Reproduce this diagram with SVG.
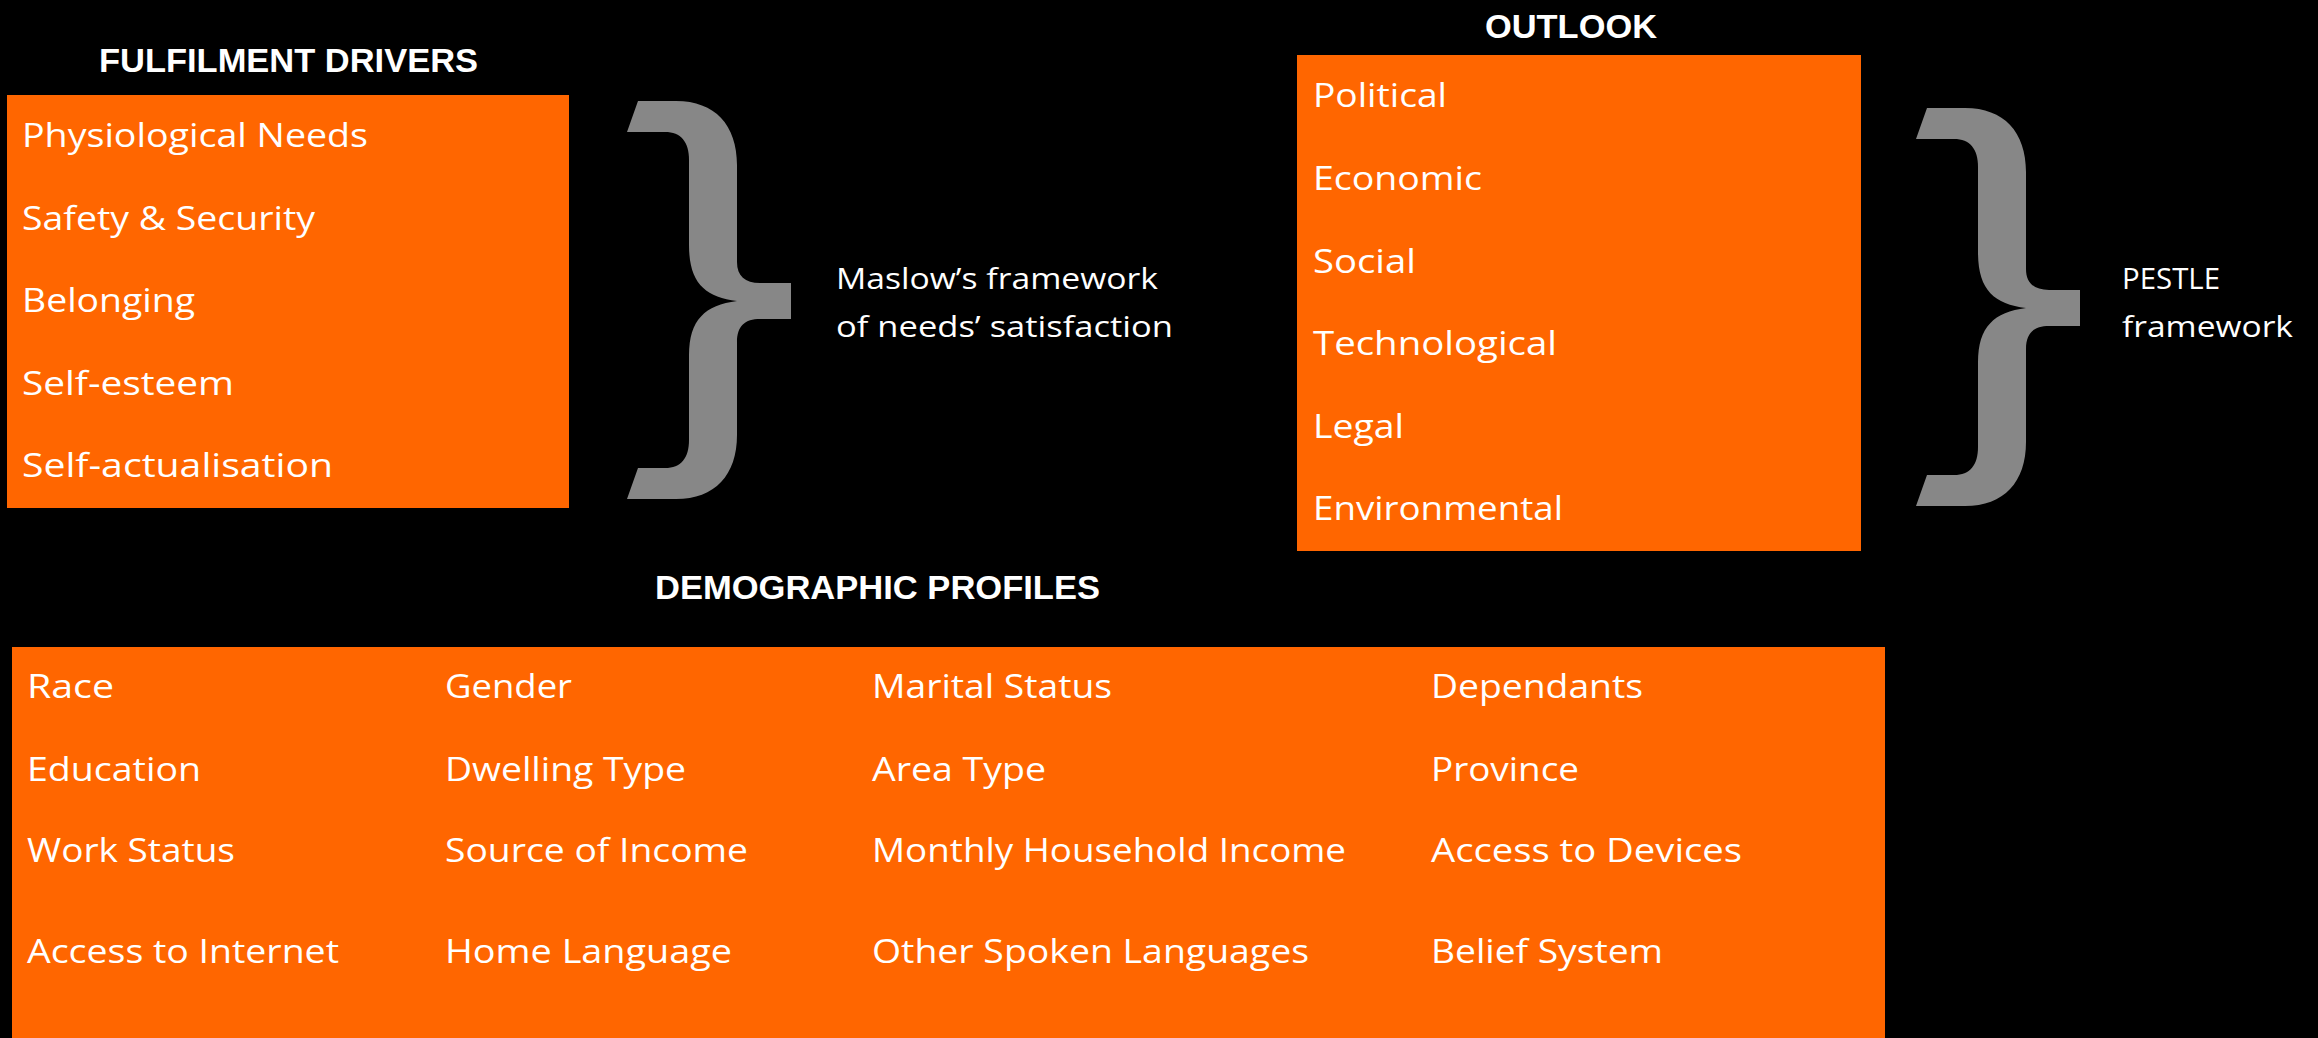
<svg xmlns="http://www.w3.org/2000/svg" xmlns:xlink="http://www.w3.org/1999/xlink" width="2318" height="1038" viewBox="0 0 2318 1038">
  <style>
    .panel { fill: #FF6600; }
    .head { font-family: "Liberation Sans", Arial, sans-serif; font-weight: 700; font-size: 34px; fill: #FFFFFF; }
    .item { font-family: "Open Sans", "Noto Sans", sans-serif; font-weight: 500; font-size: 33px; fill: #FFFFFF; }
    .note { font-family: "Open Sans", "Noto Sans", sans-serif; font-weight: 400; font-size: 30px; fill: #FFFFFF; }
    .brace { fill: #878787; }
  </style>
  <defs>
    <!-- closing curly brace, drawn at origin, size 164x398 -->
    <path id="brace" d="M 11,0 L 49,0 C 88,0 110,24 110,64 L 110,161 C 110,175 118,182 133,182 L 164,182 L 164,218 L 133,218 C 118,218 110,225 110,241 L 110,334 C 110,374 88,398 49,398 L 0,398 L 11,367 L 38,367 C 54,367 62,357 62,339 L 62,254 C 62,219 78,204 110,200 C 78,196 62,182 62,144 L 62,59 C 62,41 54,31 38,31 L 0,31 Z"/>
  </defs>

  <rect x="0" y="0" width="2318" height="1038" fill="#000000"/>

  <!-- Fulfilment drivers -->
  <g id="fulfilment-drivers">
    <text class="head" x="99" y="72" textLength="379" lengthAdjust="spacingAndGlyphs">FULFILMENT DRIVERS</text>
    <rect class="panel" x="7" y="95" width="562" height="413"/>
    <text class="item" x="22" y="147" textLength="346" lengthAdjust="spacingAndGlyphs">Physiological Needs</text>
    <text class="item" x="22" y="229.5" textLength="293" lengthAdjust="spacingAndGlyphs">Safety &amp; Security</text>
    <text class="item" x="22" y="312" textLength="173" lengthAdjust="spacingAndGlyphs">Belonging</text>
    <text class="item" x="22" y="394.5" textLength="212" lengthAdjust="spacingAndGlyphs">Self-esteem</text>
    <text class="item" x="22" y="477" textLength="311" lengthAdjust="spacingAndGlyphs">Self-actualisation</text>
  </g>

  <!-- Maslow label -->
  <g id="maslow-label">
    <text class="note" x="836" y="289" textLength="322" lengthAdjust="spacingAndGlyphs">Maslow’s framework</text>
    <text class="note" x="836" y="337" textLength="337" lengthAdjust="spacingAndGlyphs">of needs’ satisfaction</text>
  </g>

  <!-- Outlook -->
  <g id="outlook">
    <text class="head" x="1485" y="38" textLength="172" lengthAdjust="spacingAndGlyphs">OUTLOOK</text>
    <rect class="panel" x="1297" y="55" width="564" height="496"/>
    <text class="item" x="1313" y="107" textLength="134" lengthAdjust="spacingAndGlyphs">Political</text>
    <text class="item" x="1313" y="190" textLength="169" lengthAdjust="spacingAndGlyphs">Economic</text>
    <text class="item" x="1313" y="272.5" textLength="103" lengthAdjust="spacingAndGlyphs">Social</text>
    <text class="item" x="1313" y="355" textLength="244" lengthAdjust="spacingAndGlyphs">Technological</text>
    <text class="item" x="1313" y="437.5" textLength="91" lengthAdjust="spacingAndGlyphs">Legal</text>
    <text class="item" x="1313" y="520" textLength="250" lengthAdjust="spacingAndGlyphs">Environmental</text>
  </g>

  <!-- PESTLE label -->
  <g id="pestle-label">
    <text class="note" x="2122" y="289" textLength="98" lengthAdjust="spacingAndGlyphs">PESTLE</text>
    <text class="note" x="2122" y="337" textLength="171" lengthAdjust="spacingAndGlyphs">framework</text>
  </g>

  <!-- Demographic profiles -->
  <g id="demographic-profiles">
    <text class="head" x="655" y="599" textLength="445" lengthAdjust="spacingAndGlyphs">DEMOGRAPHIC PROFILES</text>
    <rect class="panel" x="12" y="647" width="1873" height="391"/>
    <text class="item" x="27" y="698" textLength="87" lengthAdjust="spacingAndGlyphs">Race</text>
    <text class="item" x="27" y="781" textLength="174" lengthAdjust="spacingAndGlyphs">Education</text>
    <text class="item" x="27" y="862" textLength="208" lengthAdjust="spacingAndGlyphs">Work Status</text>
    <text class="item" x="27" y="963" textLength="312" lengthAdjust="spacingAndGlyphs">Access to Internet</text>
    <text class="item" x="445" y="698" textLength="127" lengthAdjust="spacingAndGlyphs">Gender</text>
    <text class="item" x="445" y="781" textLength="241" lengthAdjust="spacingAndGlyphs">Dwelling Type</text>
    <text class="item" x="445" y="862" textLength="303" lengthAdjust="spacingAndGlyphs">Source of Income</text>
    <text class="item" x="445" y="963" textLength="287" lengthAdjust="spacingAndGlyphs">Home Language</text>
    <text class="item" x="872" y="698" textLength="240" lengthAdjust="spacingAndGlyphs">Marital Status</text>
    <text class="item" x="872" y="781" textLength="174" lengthAdjust="spacingAndGlyphs">Area Type</text>
    <text class="item" x="872" y="862" textLength="474" lengthAdjust="spacingAndGlyphs">Monthly Household Income</text>
    <text class="item" x="872" y="963" textLength="437" lengthAdjust="spacingAndGlyphs">Other Spoken Languages</text>
    <text class="item" x="1431" y="698" textLength="212" lengthAdjust="spacingAndGlyphs">Dependants</text>
    <text class="item" x="1431" y="781" textLength="148" lengthAdjust="spacingAndGlyphs">Province</text>
    <text class="item" x="1431" y="862" textLength="311" lengthAdjust="spacingAndGlyphs">Access to Devices</text>
    <text class="item" x="1431" y="963" textLength="232" lengthAdjust="spacingAndGlyphs">Belief System</text>
  </g>

  <!-- Braces grouping each list with its framework label -->
  <g id="connectors">
    <use xlink:href="#brace" href="#brace" class="brace" transform="translate(627,101)"/>
    <use xlink:href="#brace" href="#brace" class="brace" transform="translate(1916,108)"/>
  </g>
</svg>
